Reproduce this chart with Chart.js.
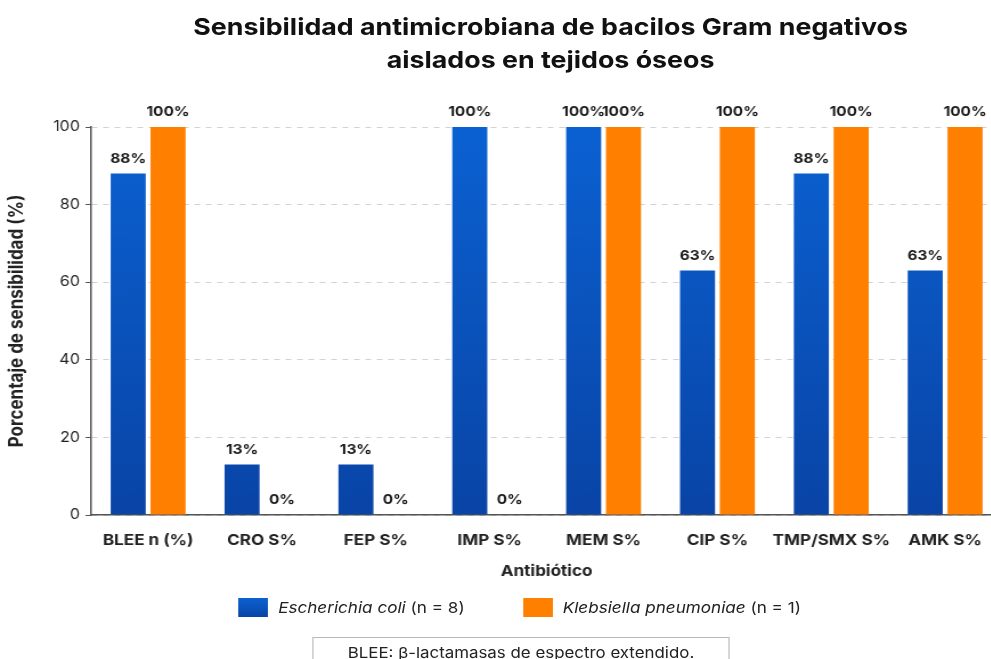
<!DOCTYPE html>
<html>
<head>
<meta charset="utf-8">
<script src="https://cdn.jsdelivr.net/npm/chart.js@4.4.1/dist/chart.umd.min.js"></script>
<style>
    html, body { margin: 0; padding: 0; overflow: hidden; background: #fff; }
    body { width: 991px; height: 659px; position: relative; font-family: Inter, "Liberation Sans", sans-serif; color: #1a1a1a; }
    /* the reference is stretched sideways, so the whole page is laid out narrow and scaled */
    #page { position: absolute; left: 0; top: 0; width: 890px; height: 659px; transform: scaleX(1.14); transform-origin: 0 0; }
    #wrap { position: absolute; left: 0; top: 0; width: 886px; height: 659px; }
    #title { position: absolute; left: 133px; width: 700px; top: 10px; text-align: center; font-weight: 700; font-size: 23.5px; line-height: 33px; color: #111; }
    #legend { position: absolute; top: 598px; left: 209px; display: flex; font-size: 15px; line-height: 19px; color: #222; }
    #legend .item { display: flex; align-items: center; margin-right: 51px; }
    #legend .box { width: 26px; height: 19px; margin-right: 9px; }
    #note { position: absolute; left: 274px; top: 637px; width: 364px; height: 40px; border: 1px solid #b8b8b8; text-align: center; font-size: 14.8px; line-height: 30px; color: #222; }
</style>
</head>
<body>
<div id="page">
    <div id="wrap"><canvas id="chart"></canvas></div>
    <div id="title">Sensibilidad antimicrobiana de bacilos Gram negativos<br>aislados en tejidos óseos</div>
    <div id="legend"></div>
    <div id="note">BLEE: β-lactamasas de espectro extendido.</div>
</div>
<script>
const categories = ['BLEE n (%)', 'CRO S%', 'FEP S%', 'IMP S%', 'MEM S%', 'CIP S%', 'TMP/SMX S%', 'AMK S%'];
const ecoliValues = [88, 13, 13, 100, 100, 63, 88, 63];
const klebValues = [100, 0, 0, 0, 100, 100, 100, 100];
const seriesNames = ['Escherichia coli', 'Klebsiella pneumoniae'];
const seriesCounts = ['(n = 8)', '(n = 1)'];
const yTicks = [0, 20, 40, 60, 80, 100];

function blueGradient(context) {
    const area = context.chart.chartArea;
    if (!area) return '#0a55c0';
    const g = context.chart.ctx.createLinearGradient(0, area.top, 0, area.bottom);
    g.addColorStop(0, '#0b61d2');
    g.addColorStop(1, '#0944a6');
    return g;
}

// value labels above each bar
const barLabels = {
    id: 'barLabels',
    afterDatasetsDraw(chart) {
        const ctx = chart.ctx;
        ctx.save();
        ctx.font = 'bold 13.5px Inter, "Liberation Sans", sans-serif';
        ctx.fillStyle = '#1a1a1a';
        ctx.textAlign = 'center';
        ctx.textBaseline = 'bottom';
        chart.data.datasets.forEach((ds, i) => {
            chart.getDatasetMeta(i).data.forEach((bar, j) => {
                ctx.fillText(ds.data[j] + '%', bar.x, bar.y - 8);
            });
        });
        ctx.restore();
    }
};

const colors = [blueGradient, '#ff7f00'];
const legendSwatch = ['linear-gradient(#0b61d2, #0944a6)', '#ff7f00'];

const legend = document.getElementById('legend');
seriesNames.forEach((name, i) => {
    const item = document.createElement('div');
    item.className = 'item';
    item.innerHTML = '<span class="box" style="background:' + legendSwatch[i] + '"></span><i>' + name + '</i>&nbsp;' + seriesCounts[i];
    legend.appendChild(item);
});

new Chart(document.getElementById('chart'), {
    type: 'bar',
    data: {
        labels: categories,
        datasets: [
            { label: seriesNames[0], data: ecoliValues, backgroundColor: colors[0] },
            { label: seriesNames[1], data: klebValues, backgroundColor: colors[1] }
        ]
    },
    options: {
        responsive: true,
        maintainAspectRatio: false,
        animation: false,
        categoryPercentage: 0.7,
        barPercentage: 0.88,
        layout: { padding: { top: 127, right: 7, bottom: 77, left: 0 } },
        plugins: {
            legend: { display: false },
            title: { display: false },
            tooltip: { enabled: false }
        },
        scales: {
            x: {
                grid: { display: false },
                border: { color: '#555', width: 1.5 },
                ticks: { color: '#222', padding: 8, maxRotation: 0, minRotation: 0, autoSkip: false, font: { size: 15, weight: 'bold', family: 'Inter' } },
                title: { display: true, text: 'Antibiótico', color: '#222', padding: { top: 0, bottom: 2 }, font: { size: 15, weight: 'bold', family: 'Inter' } },
                afterFit(scale) { scale.height = 67; }
            },
            y: {
                min: 0,
                max: 100,
                afterBuildTicks(scale) { scale.ticks = yTicks.map(v => ({ value: v })); },
                grid: {
                    color: '#d2d2d2',
                    tickColor: '#555',
                    tickLength: 5,
                    tickBorderDash: [],
                    drawTicks: true
                },
                border: { color: '#555', width: 1.5, dash: [5, 5] },
                ticks: { color: '#222', padding: 5, font: { size: 14, family: 'Inter' } },
                title: { display: true, text: 'Porcentaje de sensibilidad (%)', color: '#222', padding: { top: 5, bottom: 0 }, font: { size: 17, weight: 'bold', family: 'Inter' } },
                afterFit(scale) { scale.width = 80; }
            }
        }
    },
    plugins: [barLabels]
});
</script>
</body>
</html>
